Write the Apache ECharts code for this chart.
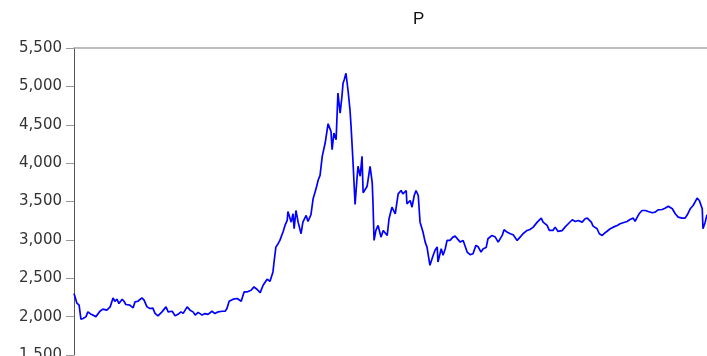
<!DOCTYPE html>
<html>
<head>
<meta charset="utf-8">
<script src="https://cdn.jsdelivr.net/npm/echarts@6/dist/echarts.min.js"></script>
<style>
  html, body { margin: 0; padding: 0; background: #ffffff; }
  #chart { width: 707px; height: 356px; }
</style>
</head>
<body>
<div id="chart"></div>
<script>
// Index level P, sampled dates and closing levels
const dates = [
  '2013-05-29','2013-06-06','2013-06-12','2013-06-17','2013-06-23','2013-07-01','2013-07-06','2013-07-15','2013-07-20','2013-07-28',
  '2013-08-08','2013-08-16','2013-08-27','2013-09-05','2013-09-13','2013-09-18','2013-09-24','2013-09-29','2013-10-08','2013-10-13',
  '2013-10-18','2013-10-29','2013-11-07','2013-11-12','2013-11-20','2013-12-01','2013-12-07','2013-12-15','2013-12-23','2013-12-31',
  '2014-01-06','2014-01-14','2014-01-25','2014-02-05','2014-02-11','2014-02-22','2014-03-02','2014-03-10','2014-03-18','2014-03-24',
  '2014-04-04','2014-04-12','2014-04-20','2014-04-26','2014-05-04','2014-05-15','2014-05-23','2014-05-31','2014-06-11','2014-06-19',
  '2014-06-28','2014-07-09','2014-07-17','2014-07-22','2014-07-28','2014-08-08','2014-08-19','2014-08-24','2014-08-30','2014-09-07',
  '2014-09-15','2014-09-26','2014-10-04','2014-10-12','2014-10-21','2014-10-29','2014-11-09','2014-11-17','2014-11-25','2014-11-28',
  '2014-12-03','2014-12-09','2014-12-14','2014-12-23','2014-12-28','2015-01-03','2015-01-05','2015-01-14','2015-01-19','2015-01-22',
  '2015-01-27','2015-02-02','2015-02-10','2015-02-15','2015-02-24','2015-03-01','2015-03-09','2015-03-15','2015-03-23','2015-03-29',
  '2015-04-03','2015-04-09','2015-04-17','2015-04-25','2015-05-03','2015-05-06','2015-05-11','2015-05-17','2015-05-22','2015-05-28',
  '2015-06-02','2015-06-05','2015-06-08','2015-06-13','2015-06-19','2015-06-24','2015-06-27','2015-07-02','2015-07-08','2015-07-13',
  '2015-07-16','2015-07-22','2015-07-27','2015-07-30','2015-08-10','2015-08-18','2015-08-24','2015-08-26','2015-08-29','2015-09-03',
  '2015-09-09','2015-09-17','2015-09-23','2015-10-04','2015-10-09','2015-10-17','2015-10-26','2015-11-03','2015-11-11','2015-11-16',
  '2015-11-25','2015-11-27','2015-12-06','2015-12-11','2015-12-17','2015-12-22','2015-12-28','2016-01-02','2016-01-10','2016-01-16',
  '2016-01-21','2016-01-24','2016-01-29','2016-02-07','2016-02-12','2016-02-18','2016-02-20','2016-02-29','2016-03-05','2016-03-11',
  '2016-03-16','2016-03-24','2016-04-01','2016-04-07','2016-04-12','2016-04-21','2016-04-29','2016-05-04','2016-05-10','2016-05-18',
  '2016-05-26','2016-06-03','2016-06-09','2016-06-17','2016-06-23','2016-07-01','2016-07-06','2016-07-17','2016-07-26','2016-08-03',
  '2016-08-14','2016-08-19','2016-08-27','2016-09-05','2016-09-13','2016-09-24','2016-10-02','2016-10-10','2016-10-21','2016-10-29',
  '2016-11-07','2016-11-18','2016-11-29','2016-12-04','2016-12-15','2016-12-21','2016-12-31','2017-01-06','2017-01-14','2017-01-25',
  '2017-02-02','2017-02-11','2017-02-22','2017-03-02','2017-03-10','2017-03-21','2017-03-29','2017-04-04','2017-04-09','2017-04-15',
  '2017-04-20','2017-05-01','2017-05-07','2017-05-15','2017-05-23','2017-05-28','2017-06-06','2017-06-14','2017-06-25','2017-07-03',
  '2017-07-11','2017-07-22','2017-07-30','2017-08-08','2017-08-13','2017-08-19','2017-08-24','2017-09-01','2017-09-10','2017-09-18',
  '2017-09-29','2017-10-07','2017-10-15','2017-10-26','2017-11-03','2017-11-12','2017-11-23','2017-12-01','2017-12-09','2017-12-20',
  '2017-12-28','2018-01-03','2018-01-11','2018-01-19','2018-01-30','2018-02-05','2018-02-13','2018-02-15','2018-02-21','2018-02-26'
];

const prices = [
  2302,2175,2150,1968,1975,2000,2062,2030,2055,2000,
  2070,2097,2085,2127,2244,2200,2227,2170,2227,2200,
  2158,2150,2115,2192,2200,2244,2214,2127,2106,2110,
  2042,2010,2062,2127,2062,2070,2010,2030,2062,2042,
  2127,2084,2062,2020,2055,2020,2040,2030,2070,2040,
  2062,2070,2070,2106,2200,2227,2236,2225,2200,2322,
  2322,2344,2387,2357,2313,2409,2487,2461,2582,2712,
  2906,2950,2993,3110,3188,3253,3370,3231,3340,3145,
  3383,3231,3080,3231,3318,3240,3327,3535,3665,3780,
  3840,4088,4262,4513,4413,4175,4392,4305,4912,4652,
  4868,5042,5084,5171,4933,4695,4478,4045,3461,3786,
  3959,3829,4088,3613,3699,3959,3743,3483,2993,3123,
  3188,3036,3123,3058,3275,3426,3340,3600,3643,3600,
  3643,3470,3513,3426,3578,3643,3578,3231,3102,2971,
  2906,2930,2669,2799,2864,2906,2712,2885,2799,2885,
  2993,2993,3036,3049,3067,2971,2993,2971,2841,2807,
  2820,2928,2910,2841,2885,2900,3015,3058,3036,2971,
  3058,3132,3102,3080,3067,2993,3036,3080,3123,3136,
  3166,3231,3283,3231,3188,3123,3123,3166,3110,3120,
  3166,3210,3262,3240,3253,3231,3275,3283,3275,3231,
  3179,3145,3080,3058,3093,3100,3145,3166,3188,3210,
  3223,3240,3266,3283,3240,3296,3340,3383,3383,3370,
  3353,3361,3392,3396,3413,3439,3405,3340,3296,3283,
  3283,3327,3405,3448,3543,3513,3405,3145,3231,3327
];

const seriesName = 'P';
const yMin = 1500, yMax = 5500, yStep = 500;

const chart = echarts.init(document.getElementById('chart'), null, { renderer: 'canvas' });

chart.setOption({
  animation: false,
  backgroundColor: '#ffffff',
  title: {
    text: seriesName,
    left: 408,
    top: 6,
    textStyle: { fontFamily: 'Liberation Sans', fontSize: 17, fontWeight: 'normal', color: '#111111' }
  },
  grid: { left: 74, right: 0, top: 48, height: 307, containLabel: false, outerBoundsMode: 'none' },
  xAxis: [
    {
      type: 'time',
      position: 'bottom',
      min: dates[0],
      max: dates[dates.length - 1],
      axisLine: { show: false },
      axisTick: { show: false },
      axisLabel: { show: false },
      splitLine: { show: false }
    },
    {
      // upper frame edge of the plot area
      type: 'value',
      position: 'top',
      min: 0, max: 1,
      axisLine: { show: true, lineStyle: { color: '#a8a8a8', width: 1.5 } },
      axisTick: { show: false },
      axisLabel: { show: false },
      splitLine: { show: false }
    }
  ],
  yAxis: {
    type: 'value',
    min: yMin,
    max: yMax,
    interval: yStep,
    axisLine: { show: true, lineStyle: { color: '#555555', width: 1 } },
    axisTick: { show: true, length: 8, lineStyle: { color: '#999999' } },
    axisLabel: {
      margin: 12,
      fontFamily: 'DejaVu Sans',
      fontSize: 15,
      color: '#333333',
      formatter: v => v.toLocaleString('en-US')
    },
    splitLine: { show: false }
  },
  series: [
    {
      name: seriesName,
      type: 'line',
      xAxisIndex: 0,
      showSymbol: false,
      symbol: 'none',
      lineStyle: { color: '#0000ff', width: 1.7 },
      data: dates.map((d, i) => [d, prices[i]])
    }
  ]
});
</script>
</body>
</html>
